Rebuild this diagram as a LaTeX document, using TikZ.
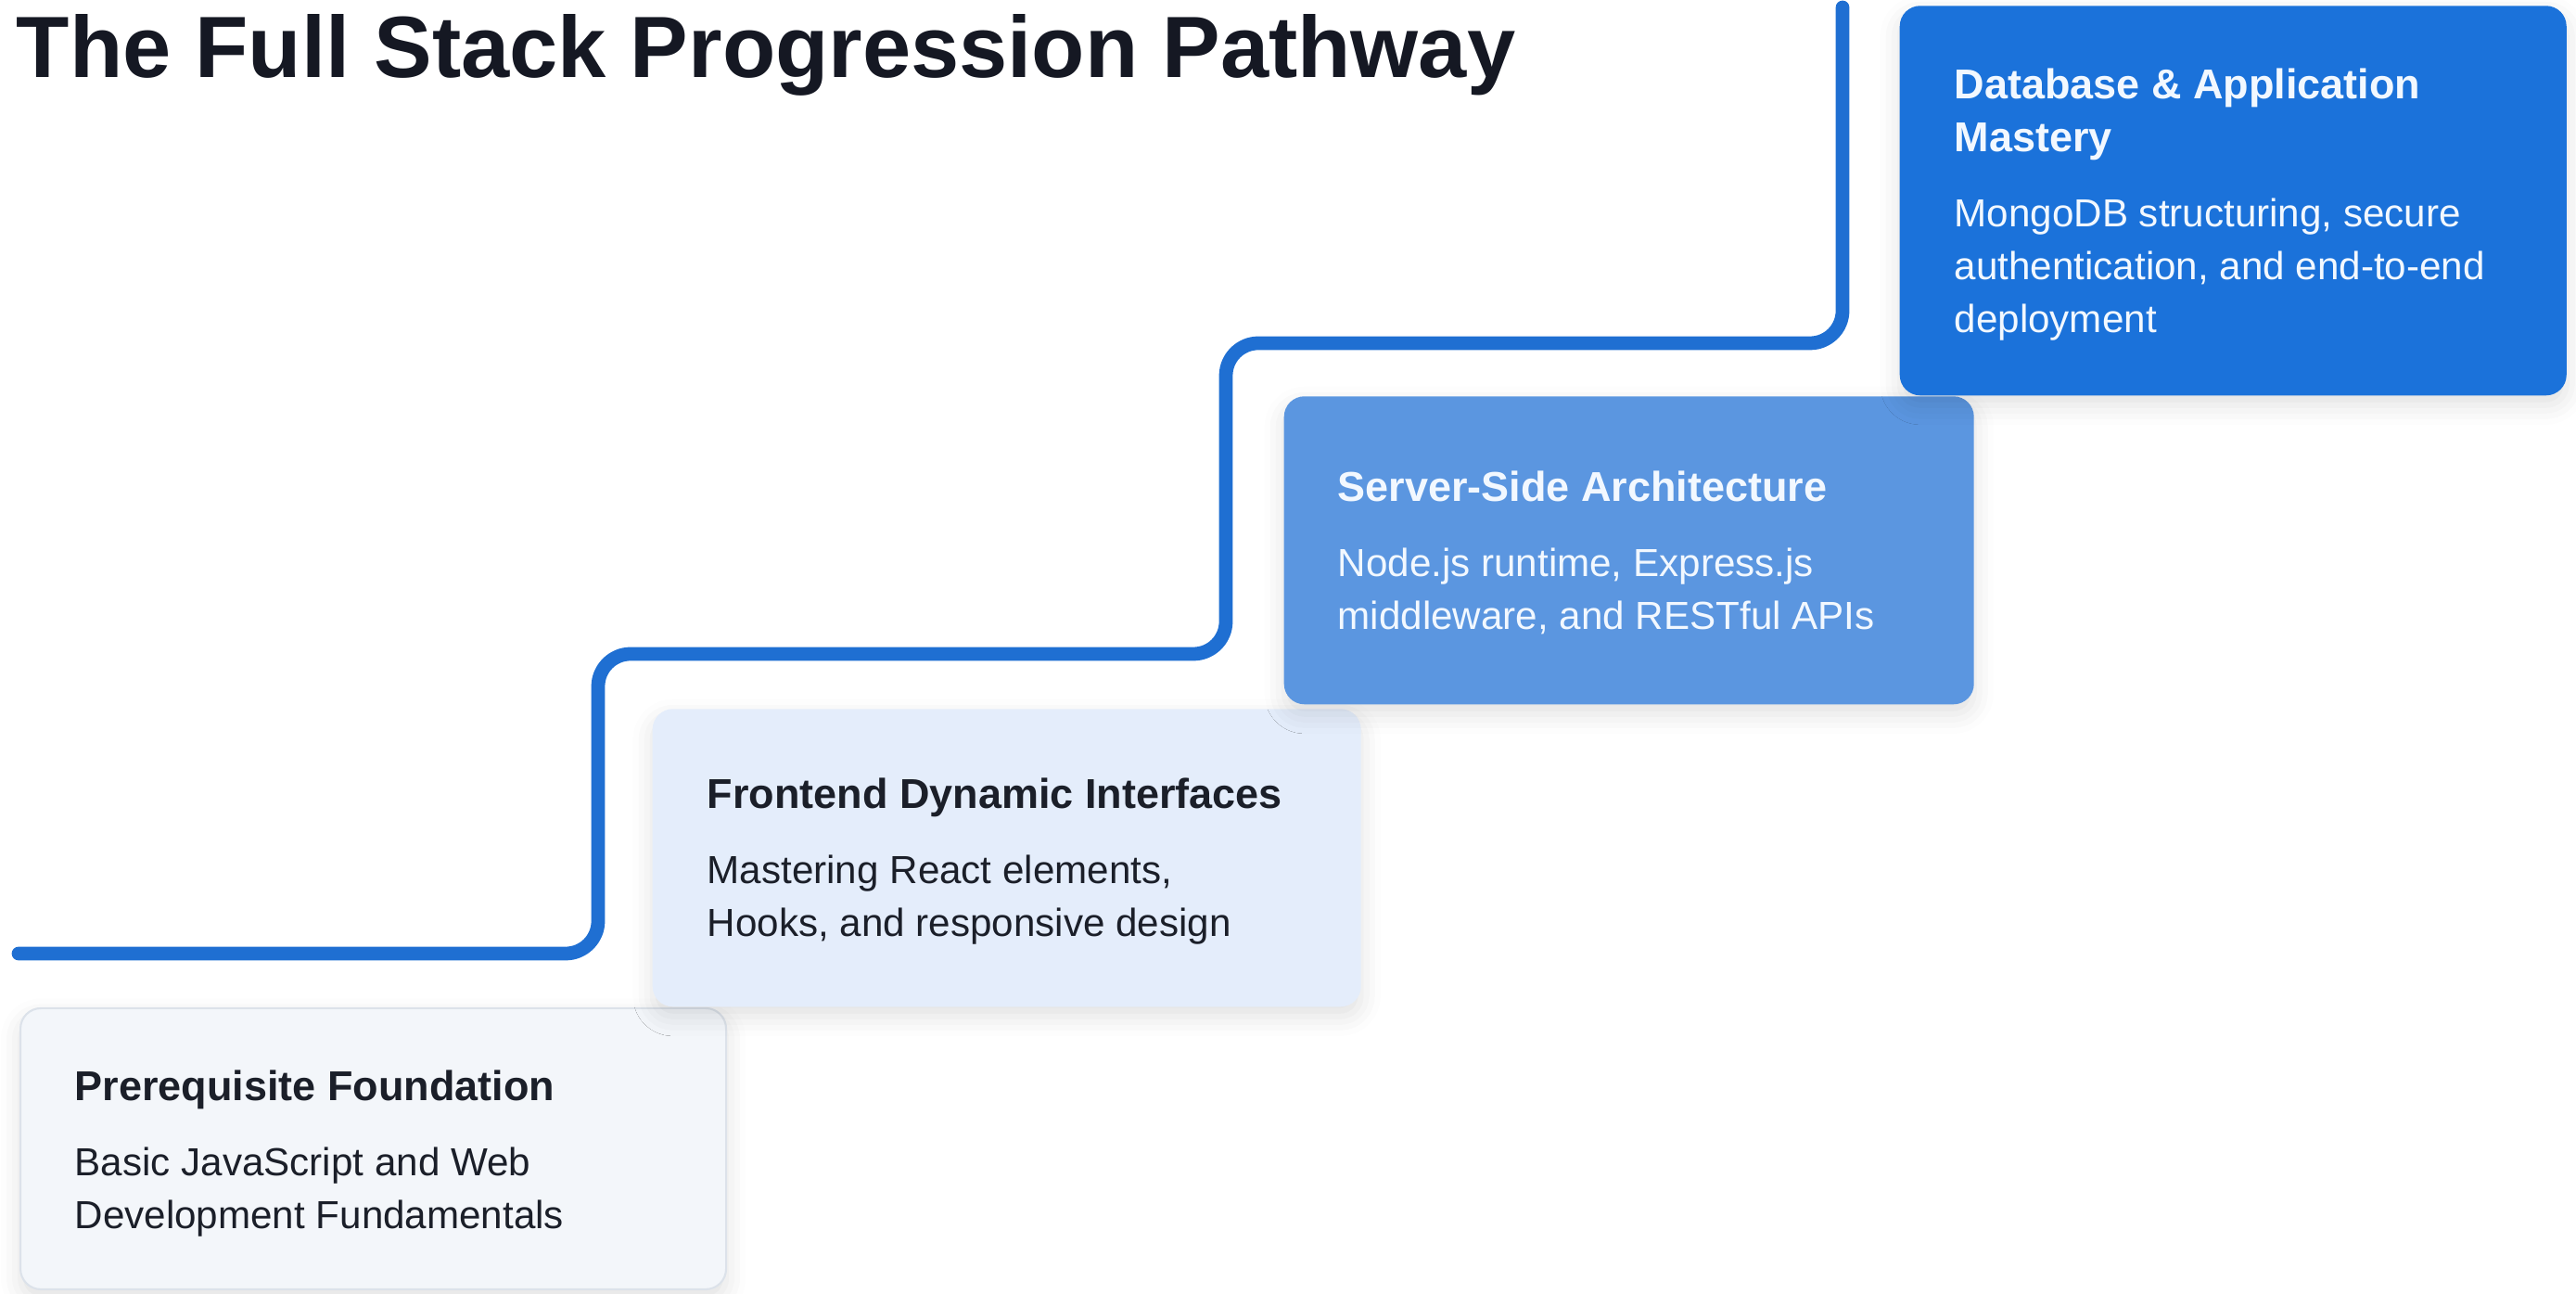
\documentclass[tikz,border=0pt]{standalone}
\usepackage{fontspec}
\setmainfont{Liberation Sans}
\usetikzlibrary{shadows.blur}
\definecolor{titleink}{HTML}{151823}
\definecolor{darkink}{HTML}{1B1F29}
\definecolor{lightink}{HTML}{F2F8FF}
\definecolor{pathblue}{HTML}{1F6FD2}
\definecolor{stepA}{HTML}{F3F6FA}
\definecolor{stepAline}{HTML}{DCE2EA}
\definecolor{stepB}{HTML}{E4EDFB}
\definecolor{stepC}{HTML}{5B96E0}
\definecolor{stepD}{HTML}{1B72DA}
% heading and body of one step card
\newcommand{\steptext}[2]{\parbox[t]{6.6cm}{\fontsize{12}{16.2}\selectfont
  {\fontsize{12.8}{16.2}\selectfont\bfseries #1}\par\vspace{6.8pt}#2}}
\begin{document}
\begin{tikzpicture}[line join=round, line cap=round,
  card/.style={rounded corners=0.22cm, inner sep=0pt, anchor=south west,
    blur shadow={shadow xshift=0pt, shadow yshift=-3pt, shadow blur radius=6pt, shadow opacity=12}},
  cardtext/.style={anchor=base west, inner sep=0pt},
  pathline/.style={line width=4.2pt, draw=pathblue, rounded corners=0.35cm}]
\useasboundingbox (0,0) rectangle (27.78,13.95);
% title
\node[anchor=base west, inner sep=0pt, text=titleink, font=\fontsize{26.7}{30}\selectfont\bfseries] (title) at (0.17,13.11) {The Full Stack Progression Pathway};
% the four step cards, bottom to top
\node[card, fill=stepA, draw=stepAline, line width=0.6pt, minimum width=7.61cm, minimum height=3.03cm] (found) at (0.21,0.04) {};
\node[card, fill=stepB, minimum width=7.64cm, minimum height=3.21cm] (front) at (7.03,3.09) {};
\node[card, fill=stepC, minimum width=7.44cm, minimum height=3.32cm] (server) at (13.84,6.35) {};
\node[card, fill=stepD, minimum width=7.19cm, minimum height=4.20cm] (master) at (20.48,9.68) {};
% the pathway line
\draw[pathline] (0.20,3.67) -- (6.45,3.67) -- (6.45,6.90) -- (13.22,6.90) -- (13.22,10.25) -- (19.87,10.25) -- (19.87,13.87);
% card texts
\node[cardtext, text=darkink] (foundtxt) at ([shift={(0.59,-1.01)}]found.north west)
  {\steptext{Prerequisite Foundation}{Basic JavaScript and Web\\Development Fundamentals}};
\node[cardtext, text=darkink] (fronttxt) at ([shift={(0.59,-1.08)}]front.north west)
  {\steptext{Frontend Dynamic Interfaces}{Mastering React elements,\\Hooks, and responsive design}};
\node[cardtext, text=lightink] (servertxt) at ([shift={(0.58,-1.14)}]server.north west)
  {\steptext{Server-Side Architecture}{Node.js runtime, Express.js\\middleware, and RESTful APIs}};
\node[cardtext, text=lightink] (mastertxt) at ([shift={(0.59,-1.01)}]master.north west)
  {\steptext{Database \& Application\\Mastery}{MongoDB structuring, secure\\authentication, and end-to-end\\deployment}};
\end{tikzpicture}
\end{document}
